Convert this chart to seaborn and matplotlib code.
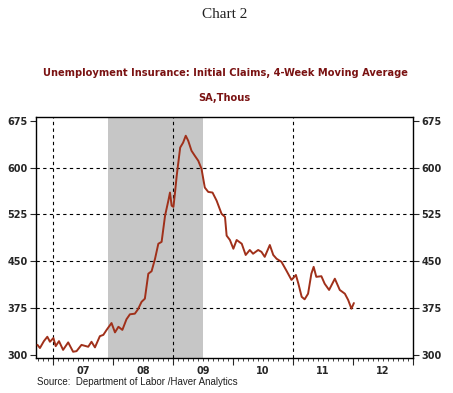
import matplotlib
matplotlib.use("Agg")
import matplotlib.pyplot as plt
import matplotlib.dates as mdates
import matplotlib.transforms as mtransforms
import seaborn as sns
import pandas as pd

# Initial claims, 4-week moving average (thous)
dates = [
    "2006-09-28", "2006-10-13", "2006-11-06", "2006-11-27", "2006-12-13",
    "2007-01-03", "2007-01-17", "2007-02-06", "2007-03-03", "2007-04-03",
    "2007-05-03", "2007-05-24", "2007-06-23", "2007-08-03", "2007-08-23",
    "2007-09-13", "2007-10-13", "2007-11-03", "2007-11-23", "2007-12-23",
    "2008-01-13", "2008-02-03", "2008-02-27", "2008-03-23", "2008-04-13",
    "2008-05-13", "2008-06-01", "2008-06-23", "2008-07-13", "2008-08-03",
    "2008-08-23", "2008-09-13", "2008-10-03", "2008-10-23", "2008-11-13",
    "2008-12-03", "2008-12-13", "2008-12-23", "2009-01-03", "2009-01-13",
    "2009-01-23", "2009-02-13", "2009-03-03", "2009-03-19", "2009-04-03",
    "2009-04-23", "2009-05-13", "2009-06-03", "2009-06-23", "2009-07-13",
    "2009-08-03", "2009-08-29", "2009-09-23", "2009-10-23", "2009-11-13",
    "2009-11-23", "2009-12-13", "2010-01-03", "2010-01-23", "2010-02-23",
    "2010-03-19", "2010-04-13", "2010-05-03", "2010-06-03", "2010-06-23",
    "2010-07-13", "2010-08-13", "2010-09-03", "2010-09-23", "2010-10-23",
    "2010-11-22", "2010-12-23", "2011-01-19", "2011-02-03", "2011-02-23",
    "2011-03-13", "2011-04-03", "2011-04-23", "2011-05-07", "2011-05-23",
    "2011-06-23", "2011-07-13", "2011-08-09", "2011-09-13", "2011-10-13",
    "2011-11-13", "2011-12-03", "2011-12-23", "2012-01-07",
]
claims = [
    316, 311, 322, 329, 321,
    327, 314, 322, 308, 320,
    305, 306, 316, 313, 321,
    312, 330, 332, 340, 351,
    336, 345, 340, 357, 365,
    366, 373, 385, 390, 430,
    434, 454, 478, 481, 523,
    547, 560, 539, 537, 561,
    587, 632, 640, 651, 643,
    627, 619, 611, 598, 568,
    561, 560, 547, 526, 521,
    491, 484, 470, 484, 478,
    460, 468, 462, 468, 465,
    457, 476, 460, 454, 449,
    435, 420, 428, 414, 393,
    389, 398, 430, 441, 425,
    426, 414, 404, 422, 404,
    398, 388, 374, 383,
]
recession = ("2007-12-01", "2009-06-30")
y_ticks = [300, 375, 450, 525, 600, 675]
year_labels = ["07", "08", "09", "10", "11", "12"]
label_years = [2007, 2008, 2009, 2010, 2011, 2012]

df = pd.DataFrame({"date": pd.to_datetime(dates), "claims": claims})

sns.set_style("white")
plt.rcParams["font.family"] = ["Liberation Sans", "DejaVu Sans"]
bold_font = ["DejaVu Sans"]

fig = plt.figure(figsize=(4.53, 3.93), dpi=100)
ax = fig.add_axes([36 / 453, 35 / 393, 377 / 453, 241 / 393])

ax.axvspan(pd.Timestamp(recession[0]), pd.Timestamp(recession[1]),
           color="#c6c6c6", lw=0, zorder=0)
sns.lineplot(data=df, x="date", y="claims", ax=ax, color="#a0301a",
             linewidth=1.4, zorder=3)

ax.set_xlim(pd.Timestamp("2006-09-19"), pd.Timestamp("2013-01-01"))
ax.set_ylim(295, 681)
ax.set_xlabel("")
ax.set_ylabel("")

# grid
for v in y_ticks[1:-1]:
    ax.axhline(v, color="black", lw=0.8, ls=(0, (3, 3)), zorder=1)
for yr in ["2007-01-01", "2009-01-01", "2011-01-01"]:
    ax.axvline(pd.Timestamp(yr), color="black", lw=0.8, ls=(0, (3, 3)), zorder=1)

# y axis on both sides
ax.set_yticks(y_ticks)
ax.tick_params(axis="y", which="both", left=True, right=True, labelleft=True,
               labelright=True, direction="out", length=4, width=0.8,
               labelsize=7, pad=2)
for t in ax.yaxis.get_major_ticks():
    for lab in (t.label1, t.label2):
        lab.set_fontweight("bold")
        lab.set_family(bold_font)

# x axis: long ticks at year starts, short monthly ticks, labels mid-year
ax.xaxis.set_major_locator(mdates.YearLocator())
ax.xaxis.set_minor_locator(mdates.MonthLocator())
ax.xaxis.set_major_formatter(plt.NullFormatter())
ax.tick_params(axis="x", which="major", direction="out", length=5, width=0.8,
               bottom=True)
ax.tick_params(axis="x", which="minor", direction="out", length=2, width=0.6,
               bottom=True)
trans = mtransforms.blended_transform_factory(ax.transData, ax.transAxes)
for yr, lab in zip(label_years, year_labels):
    ax.text(pd.Timestamp(f"{yr}-07-01"), -0.035, lab, transform=trans,
            ha="center", va="top", fontsize=7, fontweight="bold",
            family=bold_font)

for side in ["left", "right", "top", "bottom"]:
    ax.spines[side].set_color("black")
    ax.spines[side].set_linewidth(1.0)

fig.text(225 / 453, 1 - 15 / 393, "Chart 2", ha="center", va="center",
         fontsize=11, family=["Liberation Serif", "DejaVu Serif"], color="#202020")
fig.text(225 / 453, 1 - 73 / 393,
         "Unemployment Insurance: Initial Claims, 4-Week Moving Average",
         ha="center", va="center", fontsize=7.1, fontweight="bold",
         color="#7a1212", family=bold_font)
fig.text(224 / 453, 1 - 98 / 393, "SA,Thous", ha="center", va="center",
         fontsize=7.1, fontweight="bold", color="#7a1212", family=bold_font)
fig.text(37 / 453, 1 - 382 / 393, "Source:  Department of Labor /Haver Analytics",
         ha="left", va="center", fontsize=7, color="#202020")

fig.savefig("out.png", dpi=100)
